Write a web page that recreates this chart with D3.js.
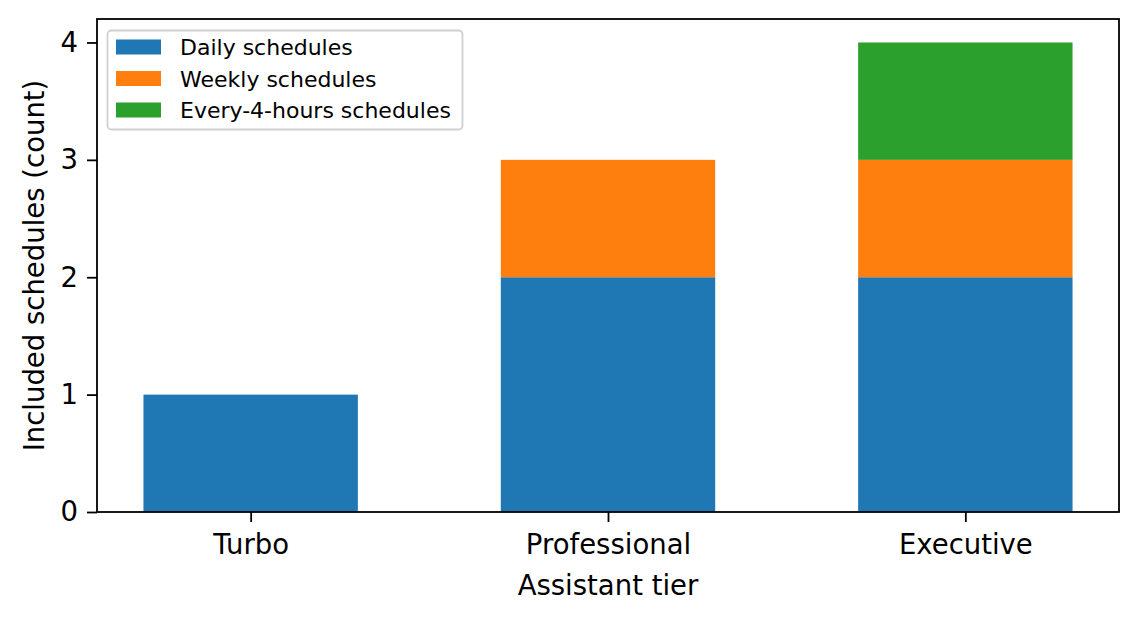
<!DOCTYPE html>
<html><head><meta charset="utf-8">
<script src="https://cdn.jsdelivr.net/npm/d3@7"></script>
<style>body{margin:0;background:#fff}svg{display:block;font-family:"DejaVu Sans",sans-serif}</style>
</head><body><svg id="c" width="1140" height="619"></svg>
<script>
const categories = ["Turbo", "Professional", "Executive"];
const seriesNames = ["Daily schedules", "Weekly schedules", "Every-4-hours schedules"];
const daily = [1, 2, 2];
const weekly = [0, 1, 1];
const every4h = [0, 0, 1];
const yTicks = [0, 1, 2, 3, 4];
const colors = ["#1f77b4", "#ff7f0e", "#2ca02c"];

const svg = d3.select("#c");
const L = 97, R = 1119, T = 19, B = 512;
const x = d3.scaleLinear().domain([-0.43, 2.43]).range([L, R]);
const y = d3.scaleLinear().domain([0, 4.2]).range([B, T]);
const bw = 0.6;

const rows = categories.map((c, i) => ({cat: c, i, a: daily[i], b: weekly[i], c2: every4h[i]}));
const stack = d3.stack().keys(["a", "b", "c2"])(rows);

stack.forEach((layer, k) => {
  svg.append("g").selectAll("rect").data(layer.filter(d => d[1] - d[0] > 0)).join("rect")
    .attr("x", d => x(d.data.i - bw / 2))
    .attr("width", d => x(d.data.i + bw / 2) - x(d.data.i - bw / 2))
    .attr("y", d => y(d[1]))
    .attr("height", d => y(d[0]) - y(d[1]))
    .attr("fill", colors[k]);
});

const xAxis = svg.append("g").attr("transform", `translate(0,${B})`)
  .call(d3.axisBottom(x).tickValues([0, 1, 2]).tickFormat(i => categories[i]).tickSize(10).tickPadding(12));
const yAxis = svg.append("g").attr("transform", `translate(${L},0)`)
  .call(d3.axisLeft(y).tickValues(yTicks).tickFormat(d3.format("d")).tickSize(10).tickPadding(9));
[xAxis, yAxis].forEach(g => {
  g.select(".domain").remove();
  g.selectAll(".tick line").attr("stroke", "#000").attr("stroke-width", 1.8);
  g.selectAll(".tick text").attr("font-size", 27.5).attr("fill", "#000").attr("font-family", "DejaVu Sans");
});
svg.append("rect").attr("x", L).attr("y", T).attr("width", R - L).attr("height", B - T)
  .attr("fill", "none").attr("stroke", "#000").attr("stroke-width", 1.8);

svg.append("text").attr("x", (L + R) / 2).attr("y", 595).attr("text-anchor", "middle")
  .attr("font-size", 27.5).text("Assistant tier");
svg.append("text").attr("transform", `translate(44,${(T + B) / 2}) rotate(-90)`).attr("text-anchor", "middle")
  .attr("font-size", 27.5).text("Included schedules (count)");

const lg = svg.append("g");
lg.append("rect").attr("x", 107.5).attr("y", 30.5).attr("width", 355).attr("height", 99).attr("rx", 4)
  .attr("fill", "#fff").attr("fill-opacity", 0.8).attr("stroke", "#d0d0d0").attr("stroke-width", 1.8);
seriesNames.forEach((n, k) => {
  const cy = 47 + k * 31.5;
  lg.append("rect").attr("x", 116).attr("y", cy - 7.5).attr("width", 45).attr("height", 15).attr("fill", colors[k]);
  lg.append("text").attr("x", 180).attr("y", cy + 8).attr("font-size", 22).text(n);
});
</script></body></html>
